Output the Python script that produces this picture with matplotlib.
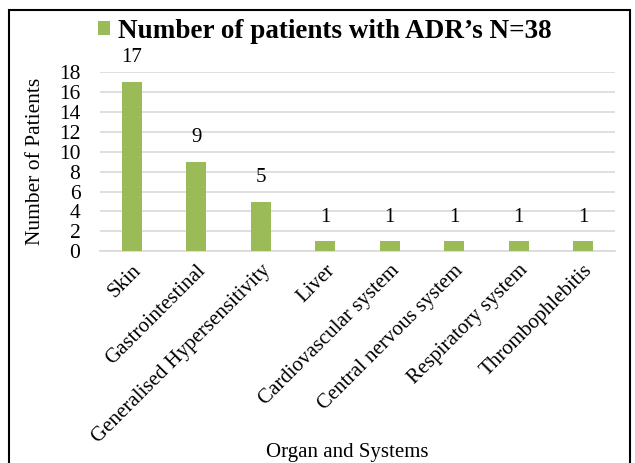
import matplotlib
matplotlib.use("Agg")
import matplotlib.pyplot as plt
from matplotlib.patches import Rectangle

categories = ["Skin", "Gastrointestinal", "Generalised Hypersensitivity", "Liver",
              "Cardiovascular system", "Central nervous system", "Respiratory system",
              "Thrombophlebitis"]
values = [17, 9, 5, 1, 1, 1, 1, 1]
series_name = "Number of patients with ADR\u2019s N=38"
y_ticks = [0, 2, 4, 6, 8, 10, 12, 14, 16, 18]

plt.rcParams['font.family'] = ['Liberation Serif', 'DejaVu Serif']
green = "#9BBB59"

fig = plt.figure(figsize=(6.35, 4.63), dpi=100)
ax = fig.add_axes([0.157, 0.457, 0.812, 0.388])
x = list(range(len(categories)))
bars = ax.bar(x, values, width=0.31, color=green, label=series_name, zorder=3)
for xi, v in zip(x, values):
    ax.text(xi, v + 2.4, str(v), ha='center', va='center', fontsize=15)
ax.set_ylim(0, 18)
ax.set_xlim(-0.5, len(categories) - 0.5)
ax.set_yticks(y_ticks)
ax.set_yticklabels([str(t) for t in y_ticks], fontsize=15.5)
ax.yaxis.grid(True, color='#D9D9D9', linewidth=1.2, zorder=0)
ax.set_axisbelow(True)
for s in ['top', 'right', 'left']:
    ax.spines[s].set_visible(False)
ax.spines['bottom'].set_color('#D9D9D9')
ax.spines['bottom'].set_linewidth(1.2)
ax.tick_params(axis='y', length=0, pad=14)
ax.set_xticks(x)
ax.set_xticklabels(categories, rotation=45, ha='right', rotation_mode='anchor', fontsize=15)
ax.tick_params(axis='x', length=0, pad=7)
ax.set_ylabel("Number of Patients", fontsize=15.5, labelpad=10)
fig.text(0.547, 0.022, "Organ and Systems", ha='center', va='center', fontsize=15)

leg = fig.legend(handles=[bars], labels=[series_name], loc='center', bbox_to_anchor=(0.512, 0.933),
                 frameon=False, prop={'weight': 'bold', 'size': 19.5}, handlelength=0.45,
                 handleheight=0.45, handletextpad=0.3)

fig.patches.append(Rectangle((0.014, -0.01), 0.978, 0.988, transform=fig.transFigure,
                             fill=False, edgecolor='black', linewidth=1.5))
fig.savefig("out.png", dpi=100)
